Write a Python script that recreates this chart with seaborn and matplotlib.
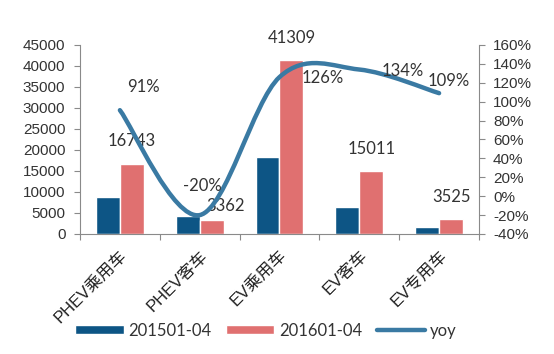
import numpy as np
import pandas as pd
import seaborn as sns
import matplotlib.pyplot as plt
from matplotlib.path import Path
from matplotlib.patches import PathPatch, Patch
from matplotlib.lines import Line2D
from matplotlib.ticker import FuncFormatter

sns.set_style("white")
plt.rcParams['font.family'] = ['Liberation Sans', 'Noto Sans CJK SC', 'DejaVu Sans']

# 数据
categories = ['PHEV乘用车', 'PHEV客车', 'EV乘用车', 'EV客车', 'EV专用车']
sales_2015 = [8766, 4203, 18278, 6415, 1687]
sales_2016 = [16743, 3362, 41309, 15011, 3525]
yoy = [91, -20, 126, 134, 109]
periods = ['201501-04', '201601-04']

df = pd.DataFrame({
    'cat': categories * 2,
    'val': sales_2015 + sales_2016,
    'period': [periods[0]] * 5 + [periods[1]] * 5,
})

c_blue = '#0d5585'
c_pink = '#e07070'
c_line = '#3a7aa3'
c_axis = '#8a8a8a'
c_text = '#333333'
label_font = ['Lato', 'DejaVu Sans']

fig = plt.figure(figsize=(5.54, 3.54), dpi=100)
ax = fig.add_axes([0.1444, 0.339, 0.7202, 0.534])

sns.barplot(data=df, x='cat', y='val', hue='period', palette=[c_blue, c_pink],
            width=0.6, ax=ax, legend=False, saturation=1)
ax.set_xlim(-0.5, 4.5)
ax.set_ylim(0, 45000)
ax.set_yticks(range(0, 45001, 5000))
ax.set_xlabel('')
ax.set_ylabel('')

# 柱子数值标签 (只标2016)
bar_offsets = [(0, 16), (10, 10), (0, 16), (0, 16), (0, 16)]
for i, v in enumerate(sales_2016):
    ax.annotate(str(v), xy=(i + 0.15, v), xytext=bar_offsets[i], textcoords='offset points',
                ha='center', va='center', fontsize=12, color=c_text, family=label_font)

ax2 = ax.twinx()
ax2.set_ylim(-40, 160)
ax2.set_yticks(range(-40, 161, 20))
ax2.yaxis.set_major_formatter(FuncFormatter(lambda v, p: f'{v:.0f}%'))

# 平滑曲线 (Excel 风格)
pts = np.array([[i, y] for i, y in enumerate(yoy)], dtype=float)
verts = [pts[0]]
codes = [Path.MOVETO]
n = len(pts)
for i in range(n - 1):
    p0 = pts[max(i - 1, 0)]
    p1 = pts[i]
    p2 = pts[i + 1]
    p3 = pts[min(i + 2, n - 1)]
    verts += [p1 + (p2 - p0) / 6, p2 - (p3 - p1) / 6, p2]
    codes += [Path.CURVE4] * 3
ax2.add_patch(PathPatch(Path(verts, codes), facecolor='none', edgecolor=c_line,
                        lw=3.2, capstyle='round'))

offsets = [(17, 17), (2, 21), (31, -1), (31, -1), (7, 9)]
for i, v in enumerate(yoy):
    ax2.annotate(f'{v}%', xy=(i, v), xytext=offsets[i], textcoords='offset points',
                 ha='center', va='center', fontsize=12, color=c_text, family=label_font)

# 坐标轴样式
for a in (ax, ax2):
    for s in a.spines.values():
        s.set_color(c_axis)
        s.set_linewidth(0.8)
    a.spines['top'].set_visible(False)
ax2.spines['left'].set_visible(False)
ax.spines['right'].set_visible(False)
ax2.spines['bottom'].set_visible(False)

ax.tick_params(axis='y', direction='out', length=4, color=c_axis, width=0.8,
               labelsize=11, labelcolor=c_text, pad=6.5, left=True)
ax2.tick_params(axis='y', direction='out', length=4, color=c_axis, width=0.8,
                labelsize=11, labelcolor=c_text, pad=6, right=True)

ax.set_xticks([i + 0.5 for i in range(-1, 5)], minor=True)
ax.tick_params(axis='x', which='minor', direction='out', length=4, color=c_axis, width=0.8, bottom=True)
ax.tick_params(axis='x', which='major', length=0, pad=10)
ax.set_xticks(range(5))
ax.set_xticklabels(categories, rotation=45, ha='right', rotation_mode='anchor',
                   fontsize=12, color='#222222')

handles = [Patch(facecolor=c_blue, label=periods[0]),
           Patch(facecolor=c_pink, label=periods[1]),
           Line2D([0], [0], color=c_line, lw=3.2, solid_capstyle='round', label='yoy')]
fig.legend(handles=handles, loc='center', bbox_to_anchor=(0.48, 0.066), ncol=3,
           frameon=False, handlelength=2.9, handleheight=0.5, handletextpad=0.3,
           columnspacing=0.85, prop={'family': label_font, 'size': 12},
           labelcolor=c_text)

fig.savefig('out.png', dpi=100)
